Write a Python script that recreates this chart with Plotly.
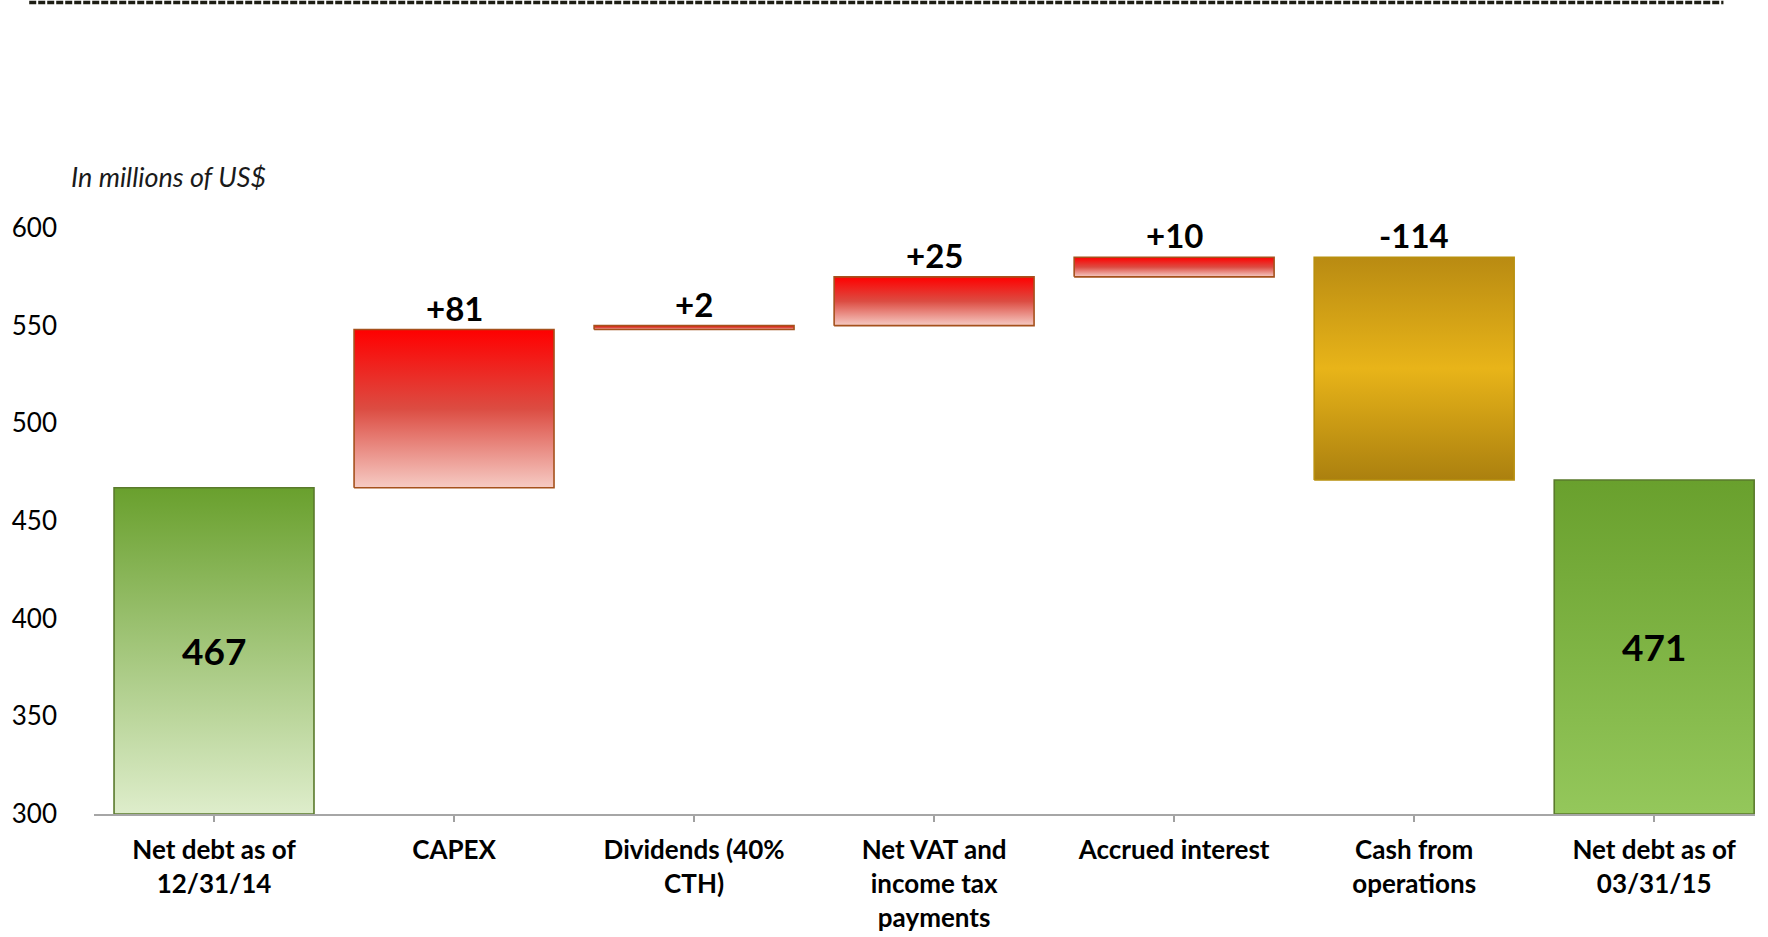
import plotly.graph_objects as go

# ---- data -------------------------------------------------------------
categories = [
    "Net debt as of<br>12/31/14",
    "CAPEX",
    "Dividends (40%<br>CTH)",
    "Net VAT and<br>income tax<br>payments",
    "Accrued interest",
    "Cash from<br>operations",
    "Net debt as of<br>03/31/15",
]
opening_debt = 467
changes = [81, 2, 25, 10, -114]
closing_debt = 471
y_ticks = [300, 350, 400, 450, 500, 550, 600]

# ---- styling ------------------------------------------------------------
Y_MIN, Y_MAX = 300, 600
BAR_W = 0.833
FONT = "Lato"

GREEN_OPEN = [[0, "#deedcb"], [1, "#69a02d"]]
GREEN_CLOSE = [[0, "#94c75b"], [1, "#69a02d"]]
RED = [[0, "#f6cbc4"], [0.5, "#dc4c42"], [1, "#ff0000"]]
GOLD = [[0, "#ab800f"], [0.5, "#e8b419"], [1, "#b98b12"]]

# ---- waterfall geometry from the data ------------------------------------
bases, tops, kinds = [], [], []
bases.append(0)
tops.append(opening_debt)
kinds.append("open")
running = opening_debt
for c in changes:
    lo, hi = sorted([running, running + c])
    bases.append(lo)
    tops.append(hi)
    kinds.append("up" if c > 0 else "down")
    running += c
bases.append(0)
tops.append(closing_debt)
kinds.append("close")

scale_for = {"open": GREEN_OPEN, "close": GREEN_CLOSE, "up": RED, "down": GOLD}
edge_for = {"open": "#5a7a2c", "close": "#5a7a2c", "up": "#a5511c", "down": "#b8900e"}

fig = go.Figure()

# invisible bar layer carrying the waterfall values
fig.add_trace(go.Bar(
    x=list(range(len(categories))),
    y=[t - b for b, t in zip(bases, tops)],
    base=bases,
    width=BAR_W,
    marker=dict(color="rgba(0,0,0,0)", line=dict(width=0)),
    hoverinfo="skip",
    showlegend=False,
))

# gradient bodies with outlines
for i, (b, t, k) in enumerate(zip(bases, tops, kinds)):
    lo = max(b, Y_MIN)
    x0, x1 = i - BAR_W / 2, i + BAR_W / 2
    fig.add_trace(go.Scatter(
        x=[x0, x1, x1, x0, x0],
        y=[lo, lo, t, t, lo],
        mode="lines",
        line=dict(width=1.6, color=edge_for[k]),
        fill="toself",
        fillgradient=dict(type="vertical", colorscale=scale_for[k], start=lo, stop=t),
        hoverinfo="skip",
        showlegend=False,
    ))

# value labels
for i, (b, t, k) in enumerate(zip(bases, tops, kinds)):
    if k in ("open", "close"):
        val = opening_debt if k == "open" else closing_debt
        fig.add_annotation(x=i, y=(Y_MIN + t) / 2, text=f"<b>{val}</b>",
                           showarrow=False, yanchor="middle",
                           font=dict(family=FONT, size=37, color="#000000"))
    else:
        c = changes[i - 1]
        fig.add_annotation(x=i, y=t, text=f"<b>{c:+d}</b>", showarrow=False,
                           yanchor="bottom", yshift=0,
                           font=dict(family=FONT, size=33, color="#000000"))

# unit note
fig.add_annotation(xref="paper", yref="paper", x=-0.015, y=1.0, yshift=52,
                   xanchor="left", yanchor="middle", showarrow=False,
                   text="<i>In millions of US$</i>",
                   font=dict(family=FONT, size=27, color="#1a1a1a"))

# dashed rule along the top edge
fig.add_shape(type="line", xref="paper", yref="paper",
              x0=-0.039, x1=0.981, y0=1.385, y1=1.385,
              line=dict(color="#1e1e14", width=3.5, dash="7px,2px"))

fig.update_layout(
    width=1768, height=937,
    margin=dict(l=94, r=13, t=228, b=123),
    paper_bgcolor="white", plot_bgcolor="white",
    font=dict(family=FONT, color="#000000"),
    bargap=0,
)
fig.update_xaxes(
    range=[-0.5, 6.42],
    tickmode="array",
    tickvals=list(range(len(categories))),
    ticktext=[f"<b>{c}</b>" for c in categories],
    tickfont=dict(family=FONT, size=26, color="#000000"),
    ticks="outside", ticklen=6, tickcolor="#a0a0a0", tickwidth=1.5,
    showline=True, linecolor="#a6a6a6", linewidth=2,
    showgrid=False, zeroline=False,
    ticklabelstandoff=6,
    automargin=False,
)
fig.update_yaxes(
    range=[Y_MIN, Y_MAX],
    tickmode="array",
    tickvals=y_ticks,
    ticktext=[str(v) for v in y_ticks],
    tickfont=dict(family=FONT, size=26, color="#000000"),
    showline=False, showgrid=False, zeroline=False,
    ticks="", ticklabelstandoff=36,
    automargin=False,
)

fig.write_html("out.html")
